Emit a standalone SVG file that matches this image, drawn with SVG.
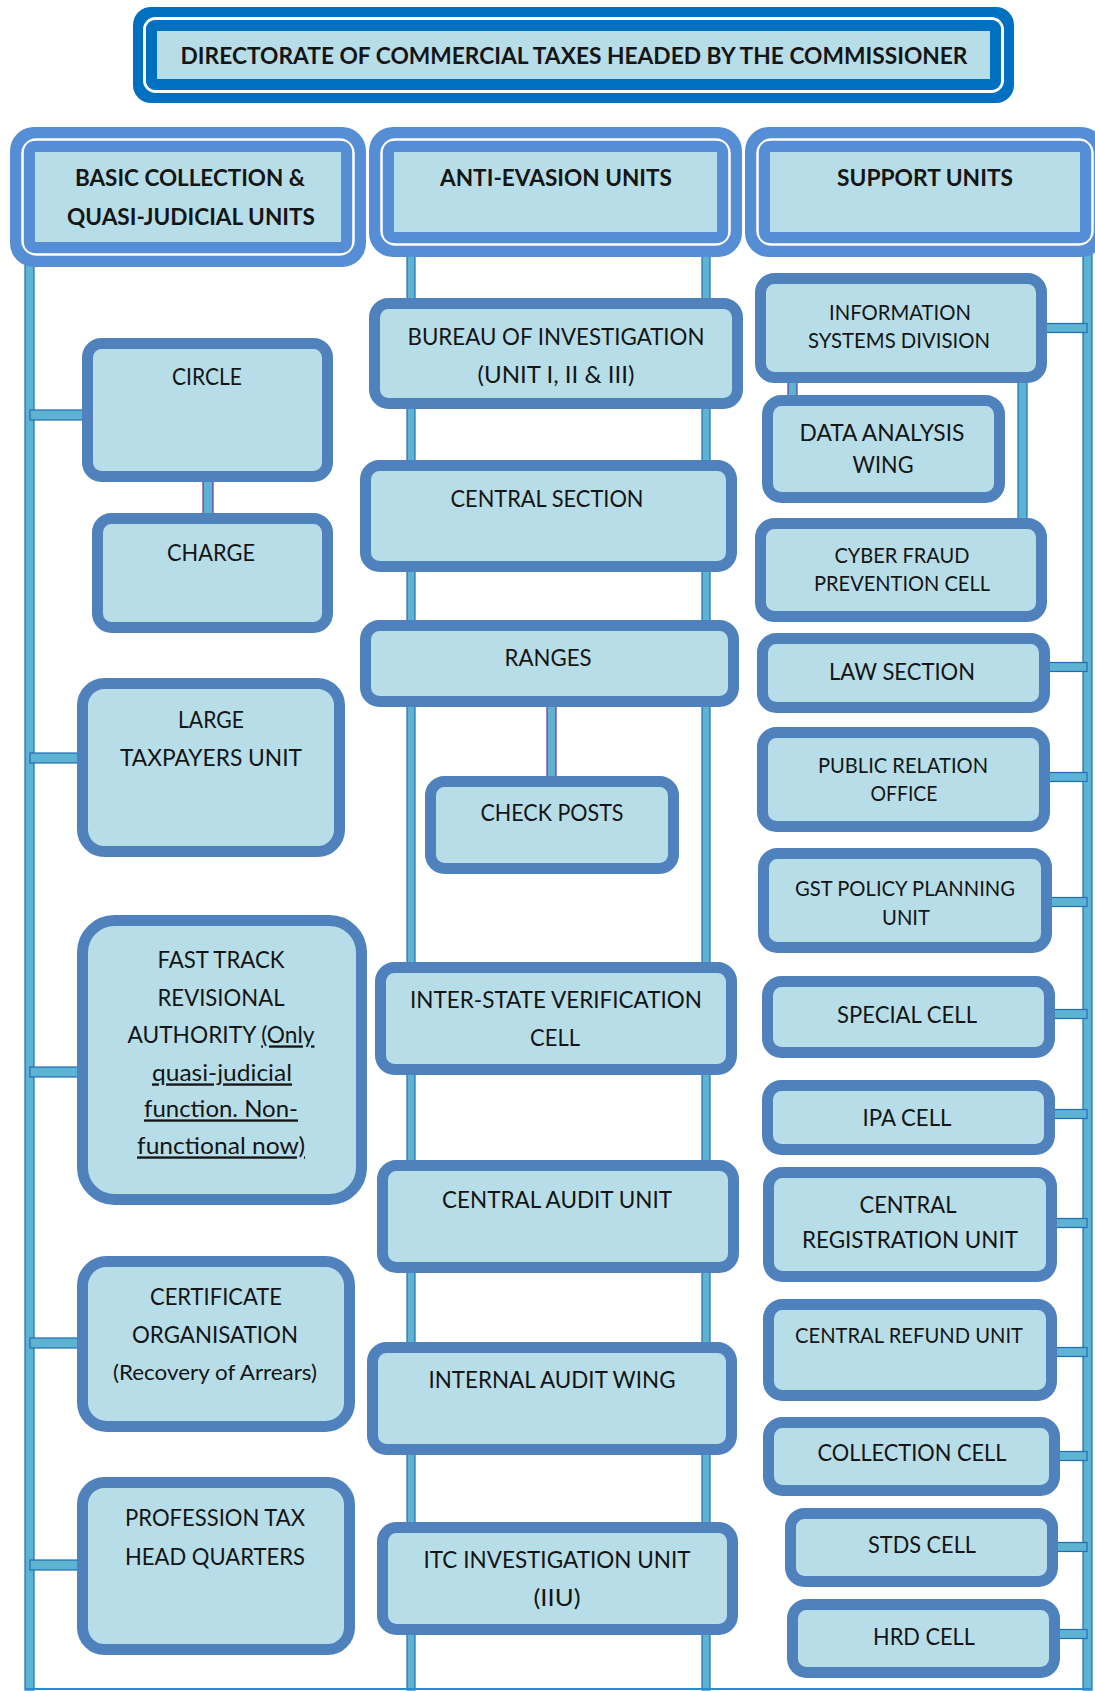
<svg xmlns="http://www.w3.org/2000/svg" width="1095" height="1691" viewBox="0 0 1095 1691">
<style>
.bg{fill:#ffffff}
.p{fill:#5DB3D2;stroke:#1F6DB5;stroke-width:1.2}
.pv{fill:#5DB3D2;stroke:#7030A0;stroke-width:1.2}
.b{fill:#B7DEE8;stroke:#4F81BD;stroke-width:11}
.hl{fill:none;stroke:#D6E8F4;stroke-width:1}
.ho{fill:#558ED5}
.hw{fill:none;stroke:#ffffff;stroke-width:2.5}
.hi{fill:#B7DEE8;stroke:#558ED5;stroke-width:11}
.to{fill:#0070C0}
.tw{fill:none;stroke:#ffffff;stroke-width:3}
.ti{fill:#B7DEE8;stroke:#0070C0;stroke-width:11}
text{font-family:Lato,"Liberation Sans",sans-serif;font-size:23.3px;fill:#151515;text-anchor:middle}
.s{font-size:21px}
.h{font-weight:bold}
</style>
<rect class="bg" x="0" y="0" width="1095" height="1691"/>

<g id="connectors">
  <rect class="p" x="25" y="255" width="9" height="1435"/>
  <rect class="p" x="407" y="255" width="8" height="1435"/>
  <rect class="p" x="702" y="255" width="8" height="1435"/>
  <rect class="p" x="1083" y="200" width="9" height="1490"/>
  <rect x="25" y="1688" width="1067" height="2" fill="#2E8BCB"/>
  <rect class="p" x="30" y="410" width="58" height="10"/>
  <rect class="p" x="30" y="753" width="53" height="10"/>
  <rect class="p" x="30" y="1067" width="53" height="10"/>
  <rect class="p" x="30" y="1338" width="53" height="10"/>
  <rect class="p" x="30" y="1560" width="53" height="10"/>
  <rect class="p" x="1041" y="323.5" width="46" height="9"/>
  <rect class="p" x="1044" y="662.5" width="43" height="9"/>
  <rect class="p" x="1044" y="772.5" width="43" height="9"/>
  <rect class="p" x="1046" y="897.5" width="41" height="9"/>
  <rect class="p" x="1049" y="1009.5" width="38" height="9"/>
  <rect class="p" x="1049" y="1109.5" width="38" height="9"/>
  <rect class="p" x="1051" y="1218.5" width="36" height="9"/>
  <rect class="p" x="1051" y="1347.5" width="36" height="9"/>
  <rect class="p" x="1054" y="1451.5" width="33" height="9"/>
  <rect class="p" x="1052" y="1542.5" width="35" height="9"/>
  <rect class="p" x="1054" y="1629.5" width="33" height="9"/>
  <rect class="pv" x="203" y="476" width="10" height="43"/>
  <rect class="pv" x="547" y="701" width="9" height="81"/>
  <rect class="pv" x="788" y="377" width="9" height="24"/>
  <rect class="p" x="1018" y="377" width="9" height="147"/>
</g>

<g id="title">
  <rect class="to" x="133" y="7" width="881" height="96" rx="18"/>
  <rect class="tw" x="144.5" y="18.5" width="858" height="73" rx="11"/>
  <rect class="ti" x="151.5" y="25.5" width="844" height="59" rx="4"/>
  <text class="h" x="574" y="64.4" textLength="787" lengthAdjust="spacingAndGlyphs">DIRECTORATE OF COMMERCIAL TAXES HEADED BY THE COMMISSIONER</text>
</g>

<g id="hdr-basic">
  <rect class="ho" x="10" y="127" width="356" height="140" rx="24"/>
  <rect class="hw" x="22.5" y="139.5" width="331" height="115" rx="14"/>
  <rect class="hi" x="29.5" y="146.5" width="317" height="101" rx="5"/>
  <text class="h" x="190" y="186.4" textLength="230" lengthAdjust="spacingAndGlyphs">BASIC COLLECTION &amp;</text>
  <text class="h" x="191" y="225.4" textLength="248" lengthAdjust="spacingAndGlyphs">QUASI-JUDICIAL UNITS</text>
</g>
<g id="hdr-anti">
  <rect class="ho" x="369" y="127" width="373" height="130" rx="24"/>
  <rect class="hw" x="381.5" y="139.5" width="348" height="105" rx="14"/>
  <rect class="hi" x="388.5" y="146.5" width="334" height="91" rx="5"/>
  <text class="h" x="556" y="186.4" textLength="232" lengthAdjust="spacingAndGlyphs">ANTI-EVASION UNITS</text>
</g>
<g id="hdr-support">
  <rect class="ho" x="745" y="127" width="360" height="130" rx="24"/>
  <rect class="hw" x="757.5" y="139.5" width="335" height="105" rx="14"/>
  <rect class="hi" x="764.5" y="146.5" width="321" height="91" rx="5"/>
  <text class="h" x="925" y="186.4" textLength="176" lengthAdjust="spacingAndGlyphs">SUPPORT UNITS</text>
</g>

<g id="n-circle">
  <rect class="b" x="87.5" y="343.5" width="240" height="133" rx="14"/>
  <text x="207" y="385.4" textLength="70" lengthAdjust="spacingAndGlyphs">CIRCLE</text>
</g>
<g id="n-charge">
  <rect class="b" x="97.5" y="518.5" width="230" height="109" rx="14"/>
  <text x="211" y="561.4" textLength="88" lengthAdjust="spacingAndGlyphs">CHARGE</text>
</g>
<g id="n-large">
  <rect class="b" x="82.5" y="683.5" width="257" height="168" rx="22"/>
  <text x="211" y="728.4" textLength="66" lengthAdjust="spacingAndGlyphs">LARGE</text>
  <text x="211" y="766.4" textLength="182" lengthAdjust="spacingAndGlyphs">TAXPAYERS UNIT</text>
</g>
<g id="n-fasttrack">
  <rect class="b" x="82.5" y="920.5" width="279" height="279" rx="32"/>
  <text x="221" y="968.4" textLength="127" lengthAdjust="spacingAndGlyphs">FAST TRACK</text>
  <text x="221" y="1006.4" textLength="127" lengthAdjust="spacingAndGlyphs">REVISIONAL</text>
  <text x="221" y="1043.4" textLength="187" lengthAdjust="spacingAndGlyphs">AUTHORITY <tspan text-decoration="underline">(Only</tspan></text>
  <text x="222" y="1081.4" textLength="140" lengthAdjust="spacingAndGlyphs" text-decoration="underline">quasi-judicial</text>
  <text x="221" y="1117.4" textLength="154" lengthAdjust="spacingAndGlyphs" text-decoration="underline">function. Non-</text>
  <text x="221" y="1154.4" textLength="168" lengthAdjust="spacingAndGlyphs" text-decoration="underline">functional now)</text>
</g>
<g id="n-certificate">
  <rect class="b" x="82.5" y="1261.5" width="267" height="165" rx="24"/>
  <text x="216" y="1305.4" textLength="132" lengthAdjust="spacingAndGlyphs">CERTIFICATE</text>
  <text x="215" y="1343.4" textLength="166" lengthAdjust="spacingAndGlyphs">ORGANISATION</text>
  <text class="s" x="215" y="1379.6" textLength="204" lengthAdjust="spacingAndGlyphs">(Recovery of Arrears)</text>
</g>
<g id="n-profession">
  <rect class="b" x="82.5" y="1482.5" width="267" height="167" rx="22"/>
  <text x="215" y="1526.4" textLength="180" lengthAdjust="spacingAndGlyphs">PROFESSION TAX</text>
  <text x="215" y="1565.4" textLength="180" lengthAdjust="spacingAndGlyphs">HEAD QUARTERS</text>
</g>

<g id="n-bureau">
  <rect class="b" x="374.5" y="303.5" width="363" height="100" rx="14"/>
  <text x="556" y="345.4" textLength="297" lengthAdjust="spacingAndGlyphs">BUREAU OF INVESTIGATION</text>
  <text x="556" y="383.4" textLength="157" lengthAdjust="spacingAndGlyphs">(UNIT I, II &amp; III)</text>
</g>
<g id="n-central-section">
  <rect class="b" x="365.5" y="465.5" width="366" height="101" rx="14"/>
  <text x="547" y="507.4" textLength="193" lengthAdjust="spacingAndGlyphs">CENTRAL SECTION</text>
</g>
<g id="n-ranges">
  <rect class="b" x="365.5" y="625.5" width="368" height="76" rx="14"/>
  <text x="548" y="666.4" textLength="87" lengthAdjust="spacingAndGlyphs">RANGES</text>
</g>
<g id="n-checkposts">
  <rect class="b" x="430.5" y="781.5" width="243" height="87" rx="14"/>
  <text x="552" y="821.4" textLength="143" lengthAdjust="spacingAndGlyphs">CHECK POSTS</text>
</g>
<g id="n-interstate">
  <rect class="b" x="380.5" y="967.5" width="351" height="102" rx="14"/>
  <text x="556" y="1008.4" textLength="292" lengthAdjust="spacingAndGlyphs">INTER-STATE VERIFICATION</text>
  <text x="555" y="1046.4" textLength="50" lengthAdjust="spacingAndGlyphs">CELL</text>
</g>
<g id="n-central-audit">
  <rect class="b" x="382.5" y="1165.5" width="351" height="102" rx="14"/>
  <text x="557" y="1208.4" textLength="230" lengthAdjust="spacingAndGlyphs">CENTRAL AUDIT UNIT</text>
</g>
<g id="n-internal-audit">
  <rect class="b" x="372.5" y="1347.5" width="359" height="102" rx="14"/>
  <text x="552" y="1388.4" textLength="247" lengthAdjust="spacingAndGlyphs">INTERNAL AUDIT WING</text>
</g>
<g id="n-itc">
  <rect class="b" x="382.5" y="1527.5" width="350" height="102" rx="14"/>
  <text x="557" y="1568.4" textLength="267" lengthAdjust="spacingAndGlyphs">ITC INVESTIGATION UNIT</text>
  <text x="557" y="1606.4" textLength="47" lengthAdjust="spacingAndGlyphs">(IIU)</text>
</g>

<g id="n-isd">
  <rect class="b" x="760.5" y="278.5" width="281" height="99" rx="14"/>
  <text class="s" x="900" y="319.6" textLength="142" lengthAdjust="spacingAndGlyphs">INFORMATION</text>
  <text class="s" x="899" y="347.6" textLength="182" lengthAdjust="spacingAndGlyphs">SYSTEMS DIVISION</text>
</g>
<g id="n-daw">
  <rect class="b" x="767.5" y="400.5" width="232" height="97" rx="14"/>
  <text x="882" y="441.4" textLength="165" lengthAdjust="spacingAndGlyphs">DATA ANALYSIS</text>
  <text x="883" y="473.4" textLength="61" lengthAdjust="spacingAndGlyphs">WING</text>
</g>
<g id="n-cyber">
  <rect class="b" x="760.5" y="523.5" width="281" height="93" rx="14"/>
  <text class="s" x="902" y="562.6" textLength="135" lengthAdjust="spacingAndGlyphs">CYBER FRAUD</text>
  <text class="s" x="902" y="590.6" textLength="176" lengthAdjust="spacingAndGlyphs">PREVENTION CELL</text>
</g>
<g id="n-law">
  <rect class="b" x="762.5" y="638.5" width="282" height="69" rx="14"/>
  <text x="902" y="680.4" textLength="146" lengthAdjust="spacingAndGlyphs">LAW SECTION</text>
</g>
<g id="n-public">
  <rect class="b" x="762.5" y="732.5" width="282" height="94" rx="14"/>
  <text class="s" x="903" y="772.6" textLength="170" lengthAdjust="spacingAndGlyphs">PUBLIC RELATION</text>
  <text class="s" x="904" y="800.6" textLength="67" lengthAdjust="spacingAndGlyphs">OFFICE</text>
</g>
<g id="n-gst">
  <rect class="b" x="763.5" y="853.5" width="283" height="94" rx="14"/>
  <text class="s" x="905" y="895.6" textLength="220" lengthAdjust="spacingAndGlyphs">GST POLICY PLANNING</text>
  <text class="s" x="906" y="924.6" textLength="48" lengthAdjust="spacingAndGlyphs">UNIT</text>
</g>
<g id="n-special">
  <rect class="b" x="767.5" y="981.5" width="282" height="71" rx="14"/>
  <text x="907" y="1023.4" textLength="140" lengthAdjust="spacingAndGlyphs">SPECIAL CELL</text>
</g>
<g id="n-ipa">
  <rect class="b" x="767.5" y="1085.5" width="282" height="64" rx="14"/>
  <text x="907" y="1126.4" textLength="89" lengthAdjust="spacingAndGlyphs">IPA CELL</text>
</g>
<g id="n-creg">
  <rect class="b" x="768.5" y="1172.5" width="283" height="104" rx="14"/>
  <text x="908" y="1213.4" textLength="97" lengthAdjust="spacingAndGlyphs">CENTRAL</text>
  <text x="910" y="1248.4" textLength="216" lengthAdjust="spacingAndGlyphs">REGISTRATION UNIT</text>
</g>
<g id="n-cref">
  <rect class="b" x="768.5" y="1304.5" width="283" height="91" rx="14"/>
  <text class="s" x="909" y="1342.6" textLength="228" lengthAdjust="spacingAndGlyphs">CENTRAL REFUND UNIT</text>
</g>
<g id="n-collection">
  <rect class="b" x="768.5" y="1422.5" width="286" height="68" rx="14"/>
  <text x="912" y="1461.4" textLength="189" lengthAdjust="spacingAndGlyphs">COLLECTION CELL</text>
</g>
<g id="n-stds">
  <rect class="b" x="790.5" y="1513.5" width="262" height="68" rx="14"/>
  <text x="922" y="1553.4" textLength="108" lengthAdjust="spacingAndGlyphs">STDS CELL</text>
</g>
<g id="n-hrd">
  <rect class="b" x="792.5" y="1604.5" width="262" height="68" rx="14"/>
  <text x="924" y="1645.4" textLength="102" lengthAdjust="spacingAndGlyphs">HRD CELL</text>
</g>
</svg>
